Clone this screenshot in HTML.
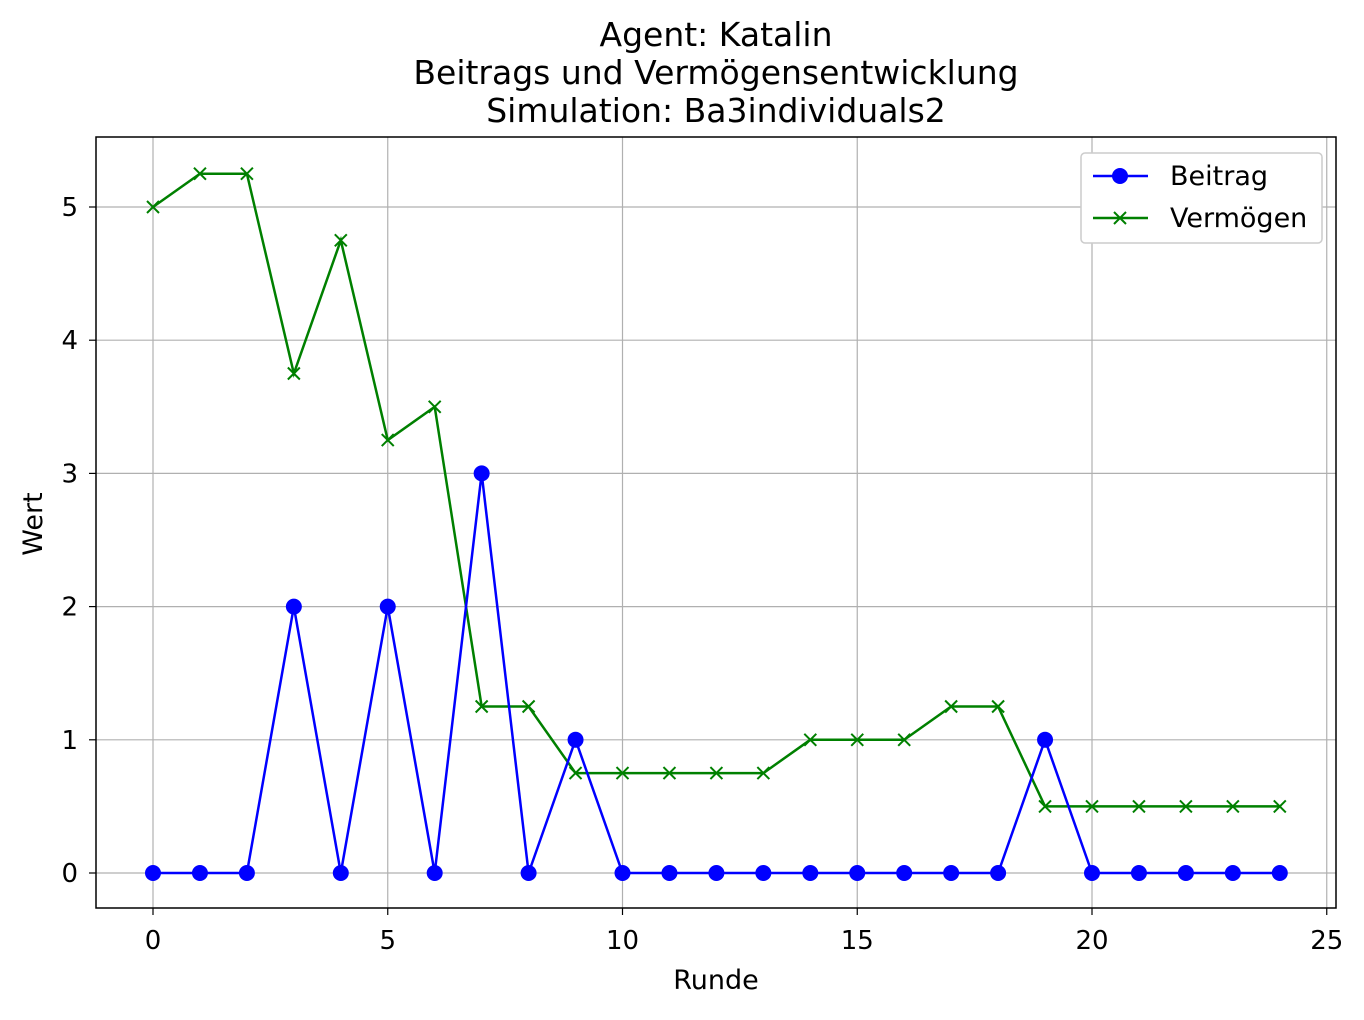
<!DOCTYPE html>
<html><head><meta charset="utf-8">
<style>
body{margin:0;background:#fff;}
svg text{font-family:"DejaVu Sans","Liberation Sans",sans-serif;fill:#000;}
</style></head>
<body>
<svg id="chart" width="1364" height="1015" xmlns="http://www.w3.org/2000/svg">
<g>
<text x="716" y="46" font-size="33" text-anchor="middle">Agent: Katalin</text>
<text x="716" y="84" font-size="33" text-anchor="middle">Beitrags und Vermögensentwicklung</text>
<text x="716" y="122" font-size="33" text-anchor="middle">Simulation: Ba3individuals2</text>
</g>
<g id="grid"></g>
<g id="axes"></g>
<g id="series"></g>
<rect x="96" y="137" width="1240" height="771" fill="none" stroke="#000" stroke-width="1.5"/>
<text x="716" y="989" font-size="27" text-anchor="middle">Runde</text>
<text x="42" y="524" font-size="27" text-anchor="middle" transform="rotate(-90 42 524)">Wert</text>
<g>
<rect x="1081" y="153" width="241" height="90" rx="4" fill="#fff" stroke="#ccc" stroke-width="1.5"/>
<g>
<line x1="1093" y1="176" x2="1148" y2="176" stroke="#0000ff" stroke-width="2.5"/>
<circle cx="1120" cy="176" r="8" fill="#0000ff"/>
<text x="1170" y="185" font-size="27">Beitrag</text>
</g>
<g>
<line x1="1093" y1="218" x2="1148" y2="218" stroke="#008000" stroke-width="2.5"/>
<path d="M1114 212 L1126 224 M1126 212 L1114 224" stroke="#008000" stroke-width="2"/>
<text x="1170" y="227" font-size="27">Vermögen</text>
</g>
</g>
</svg>
<script>
const rounds=[0,1,2,3,4,5,6,7,8,9,10,11,12,13,14,15,16,17,18,19,20,21,22,23,24];
const beitrag=[0,0,0,2,0,2,0,3,0,1,0,0,0,0,0,0,0,0,0,1,0,0,0,0,0];
const vermoegen=[5,5.25,5.25,3.75,4.75,3.25,3.5,1.25,1.25,0.75,0.75,0.75,0.75,0.75,1,1,1,1.25,1.25,0.5,0.5,0.5,0.5,0.5,0.5];
const xTicks=[0,5,10,15,20,25];
const yTicks=[0,1,2,3,4,5];

const NS="http://www.w3.org/2000/svg";
const sx=v=>153+v*46.95;
const sy=v=>873-v*133.2;
function mk(tag,attrs,parent){const e=document.createElementNS(NS,tag);for(const k in attrs)e.setAttribute(k,attrs[k]);parent.appendChild(e);return e;}
const grid=document.getElementById('grid'),axes=document.getElementById('axes'),series=document.getElementById('series');

xTicks.forEach(t=>{
  const g=mk('line',{x1:sx(t),x2:sx(t),y1:137,y2:908,stroke:'#b0b0b0','stroke-width':1.2},grid);
  
  
  mk('line',{x1:sx(t),x2:sx(t),y1:908,y2:915,stroke:'#000','stroke-width':1.2},axes);
  const l=mk('text',{x:sx(t),y:949,'font-size':26,'text-anchor':'middle'},axes);
  l.textContent=t;
  
  
});
yTicks.forEach(t=>{
  const g=mk('line',{x1:96,x2:1336,y1:sy(t),y2:sy(t),stroke:'#b0b0b0','stroke-width':1.2},grid);
  
  
  mk('line',{x1:89,x2:96,y1:sy(t),y2:sy(t),stroke:'#000','stroke-width':1.2},axes);
  const l=mk('text',{x:78,y:sy(t)+9,'font-size':26,'text-anchor':'end'},axes);
  l.textContent=t;
  
  
});

const pv=mk('polyline',{points:rounds.map((r,i)=>sx(r)+','+sy(vermoegen[i])).join(' '),fill:'none',stroke:'#008000','stroke-width':2.5},series);


rounds.forEach((r,i)=>{
  const x=sx(r),y=sy(vermoegen[i]);
  const m=mk('path',{d:`M${x-6} ${y-6} L${x+6} ${y+6} M${x+6} ${y-6} L${x-6} ${y+6}`,stroke:'#008000','stroke-width':2},series);
  
  
});
const pb=mk('polyline',{points:rounds.map((r,i)=>sx(r)+','+sy(beitrag[i])).join(' '),fill:'none',stroke:'#0000ff','stroke-width':2.5},series);


rounds.forEach((r,i)=>{
  const c=mk('circle',{cx:sx(r),cy:sy(beitrag[i]),r:8,fill:'#0000ff'},series);
  
  
});
</script>
</body></html>
